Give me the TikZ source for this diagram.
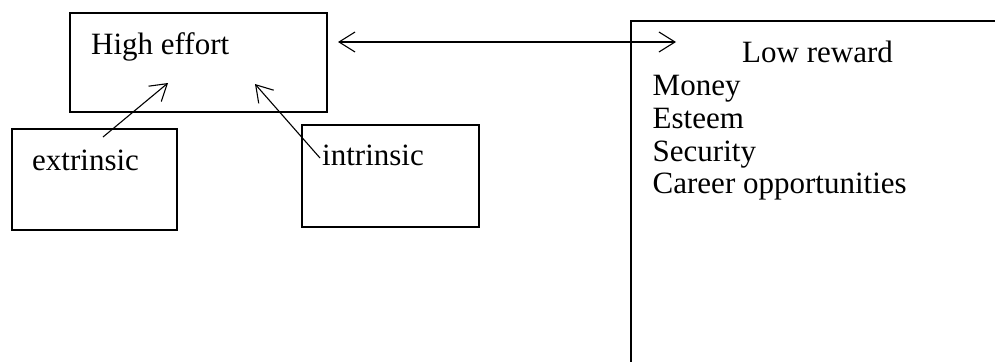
\documentclass[tikz,border=0pt]{standalone}
\usepackage{fontspec}
\setmainfont{Liberation Serif}
\usetikzlibrary{arrows.meta}
\begin{document}
\begin{tikzpicture}[x=1pt,y=-1pt,
  boxstyle/.style={draw,line width=1.1pt,inner sep=0pt},
  label/.style={anchor=base west,inner sep=0pt,font=\fontsize{31}{31}\selectfont},
  link/.style={line width=1.1pt,-{Straight Barb[length=16pt,width=20pt,line width=1.1pt]}},
  dlink/.style={line width=1.1pt,{Straight Barb[length=16pt,width=20pt,line width=1.1pt]}-{Straight Barb[length=16pt,width=20pt,line width=1.1pt]}}]
\useasboundingbox (0,0) rectangle (995,362);
% boxes
\node[boxstyle,minimum width=257pt,minimum height=99pt] (effort) at (198.5,62.5) {};
\node[boxstyle,minimum width=165pt,minimum height=101pt] (extr) at (94.5,179.5) {};
\node[boxstyle,minimum width=177pt,minimum height=102pt] (intr) at (390.5,176) {};
% open right box
\coordinate (rtr) at (995,21);
\coordinate (rtl) at (631,21);
\coordinate (rbl) at (631,362);
\draw[line width=1.1pt] (rtr) -- (rtl) -- (rbl);
% texts
\node[label] (teffort) at (91,54) {High effort};
\node[label] (textr) at (32,170) {extrinsic};
\node[label] (tintr) at (322,165) {intrinsic};
\node[label] (tlow) at (742,62.5) {Low reward};
\node[label] (t1) at (652.5,95) {Money};
\node[label] (t2) at (652.5,128.5) {Esteem};
\node[label] (t3) at (652.5,161) {Security};
\node[label] (t4) at (652.5,193) {Career opportunities};
% connector endpoints
\coordinate (a1s) at (103,137);
\coordinate (a1e) at (168,83);
\coordinate (a2s) at (320,158);
\coordinate (a2e) at (255,84);
\coordinate (dl) at (338,42);
\coordinate (dr) at (676,42);
\draw[link] (a1s) -- (a1e);
\draw[link] (a2s) -- (a2e);
\draw[dlink] (dl) -- (dr);
\end{tikzpicture}
\end{document}
